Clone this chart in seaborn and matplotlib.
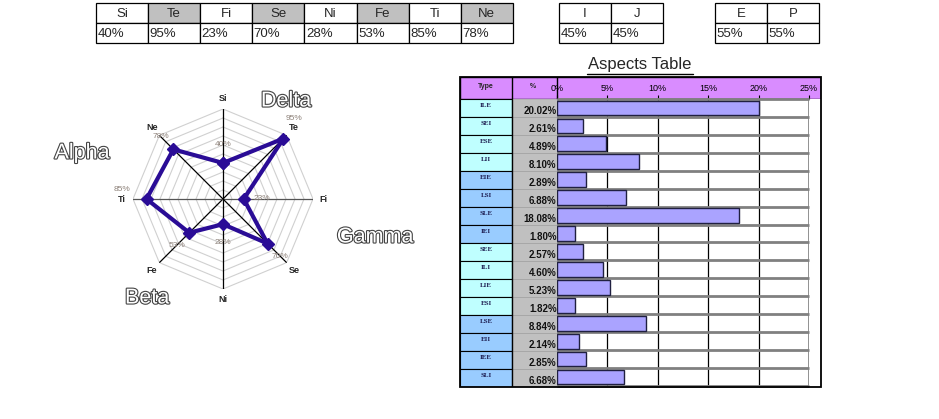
import numpy as np
import matplotlib
matplotlib.use("Agg")
import matplotlib.pyplot as plt
import matplotlib.patheffects as pe
from matplotlib.patches import Rectangle
import seaborn as sns

# ---- data ----
functions = ["Si", "Te", "Fi", "Se", "Ni", "Fe", "Ti", "Ne"]
func_values = [40, 95, 23, 70, 28, 53, 85, 78]
ij_labels = ["I", "J"]
ij_values = [45, 45]
ep_labels = ["E", "P"]
ep_values = [55, 55]
quadra_names = ["Delta", "Alpha", "Gamma", "Beta"]

types = ["ILE", "SEI", "ESE", "LII", "EIE", "LSI", "SLE", "IEI",
         "SEE", "ILI", "LIE", "ESI", "LSE", "EII", "IEE", "SLI"]
type_pct = [20.02, 2.61, 4.89, 8.10, 2.89, 6.88, 18.08, 1.80,
            2.57, 4.60, 5.23, 1.82, 8.84, 2.14, 2.85, 6.68]
pct_ticks = [0, 5, 10, 15, 20, 25]

sns.set_style("white")
plt.rcParams["font.family"] = ["Liberation Sans", "DejaVu Sans"]

W, H = 939, 419
fig = plt.figure(figsize=(W / 100, H / 100), dpi=100)


def px_axes(x0, y0, x1, y1, **kw):
    return fig.add_axes([x0 / W, 1 - y1 / H, (x1 - x0) / W, (y1 - y0) / H], **kw)


# overlay axes in pixel coords for tables / titles / frames
bg = px_axes(0, 0, W, H)
bg.set_xlim(0, W)
bg.set_ylim(H, 0)
bg.axis("off")
bg.patch.set_alpha(0)
bg.set_zorder(10)


def small_table(x0, labels, values, shade):
    cw = 52.1
    for i, (lab, val) in enumerate(zip(labels, values)):
        x = x0 + i * cw
        fc = "#c0c0c0" if shade and i % 2 == 1 else "white"
        bg.add_patch(Rectangle((x, 3), cw, 20.5, fc=fc, ec="black", lw=0.9))
        bg.add_patch(Rectangle((x, 23.5), cw, 20, fc="white", ec="black", lw=0.9))
        bg.text(x + cw / 2, 14, lab, ha="center", va="center", fontsize=9.5)
        bg.text(x + 1.5, 34, f"{val}%", ha="left", va="center", fontsize=9.5)


small_table(96, functions, func_values, True)
small_table(559, ij_labels, ij_values, False)
small_table(715, ep_labels, ep_values, False)

# ---- radar ----
cx, cy, R = 223, 199, 90
rad = px_axes(cx - R, cy - R, cx + R, cy + R, projection="polar")
rad.set_theta_offset(np.pi / 2)
rad.set_theta_direction(-1)
rad.set_ylim(0, 1)
rad.axis("off")
theta = np.arange(len(functions)) * 2 * np.pi / len(functions)
th_closed = np.append(theta, theta[0])
for r in np.arange(1, 11) / 10:
    rad.plot(th_closed, [r] * len(th_closed), color="#d0d0d0", lw=0.8, zorder=1)
for i in range(4):
    col = "#555555" if functions[i] == "Fi" else "black"
    rad.plot([theta[i], theta[i] + np.pi], [1, 1], color=col, lw=0.9, zorder=2)
vals = np.array(func_values) / 100
rad.plot(th_closed, np.append(vals, vals[0]), color="#2a0c96", lw=3,
         marker="D", ms=6, zorder=4)
for t, name, v in zip(theta, functions, vals):
    rad.text(t, 1.12, name, ha="center", va="center", fontsize=6.5,
             fontweight="bold", clip_on=False)
    r_lab = v + 0.2
    lab = f"{int(round(v * 100))}%"
    if r_lab > 1.0:
        # outer value labels sit just above the axis name
        rad.annotate(lab, (t, 1.12), xytext=(0, 4), textcoords="offset points",
                     ha="center", va="bottom", fontsize=6, color="#8c8078",
                     annotation_clip=False, zorder=5)
    else:
        rad.text(t, r_lab, lab, ha="center", va="center",
                 fontsize=6, color="#8c8078", clip_on=False, zorder=5)

outline = [pe.Stroke(linewidth=1.6, foreground="#444444"), pe.Normal()]
for name, (x, y) in zip(quadra_names, [(286, 101), (82, 153), (375, 237), (147, 298)]):
    bg.text(x, y, name, ha="center", va="center", fontsize=15.5, color="white",
            path_effects=outline)

# ---- aspects table ----
bg.text(640, 65, "Aspects Table", ha="center", va="center", fontsize=12)
bg.plot([587, 693], [74, 74], color="black", lw=1)

hdr = px_axes(460, 77, 821, 99)
hdr.set_xlim(460, 821)
hdr.set_ylim(99, 77)
hdr.axis("off")
hdr.add_patch(Rectangle((460, 77), 361, 22, fc="#d98cff", ec="black", lw=1))
hdr.plot([512, 512], [77, 99], color="black", lw=1)
hdr.plot([557, 557], [77, 99], color="black", lw=1)
hdr.text(486, 87, "Type", ha="center", va="center", fontsize=5, fontweight="bold")
hdr.text(533, 86, "%", ha="center", va="center", fontsize=5, fontweight="bold")

left = px_axes(460, 99, 557, 387)
left.set_xlim(0, 97)
left.set_ylim(len(types), 0)
left.axis("off")
cyan, blue = "#bfffff", "#99ccff"
for k, (t, p) in enumerate(zip(types, type_pct)):
    fc = cyan if (k // 4) % 2 == 0 else blue
    left.add_patch(Rectangle((0, k), 52, 1, fc=fc, ec="black", lw=0.8))
    left.add_patch(Rectangle((52, k), 45, 1, fc="#c0c0c0", ec="#a0a0a0", lw=0.5))
    left.text(26, k + 0.35, t, ha="center", va="center", fontsize=5,
              fontweight="bold", family="Liberation Serif", color="#1c1c50")
    left.text(96.5, k + 0.97, f"{p:.2f}%", ha="right", va="bottom",
              fontsize=7, fontweight="bold", color="#111111")
left.plot([52, 52], [0, len(types)], color="black", lw=1)

bar = px_axes(557, 99, 809, 386)
sns.barplot(x=type_pct, y=types, orient="h", ax=bar, color="#aaa3ff",
            saturation=1, edgecolor="#202040", linewidth=1, width=0.82, zorder=3)
bar.set_xlim(0, 25)
bar.set_ylim(len(types) - 0.5, -0.5)
bar.set_ylabel("")
bar.set_xlabel("")
bar.set_yticks([])
bar.xaxis.tick_top()
bar.set_xticks(pct_ticks)
bar.set_xticklabels([f"{v}%" for v in pct_ticks], fontsize=6.5)
bar.tick_params(axis="x", direction="out", length=3, width=0.8, pad=1.5,
                colors="black")
for s in bar.spines.values():
    s.set_visible(False)
bar.vlines(pct_ticks[1:-1], -0.5, len(types) - 0.5, color="black", lw=0.9, zorder=1)
bar.vlines([0, 25], -0.5, len(types) - 0.5, color="#888888", lw=2, zorder=1)
bar.hlines(np.arange(len(types) + 1) - 0.5, 0, 25, color="#808080", lw=2,
           zorder=2, clip_on=False)

bg.add_patch(Rectangle((460, 77), 361, 310, fc="none", ec="black", lw=1.3))

fig.savefig("out.png", dpi=100)
